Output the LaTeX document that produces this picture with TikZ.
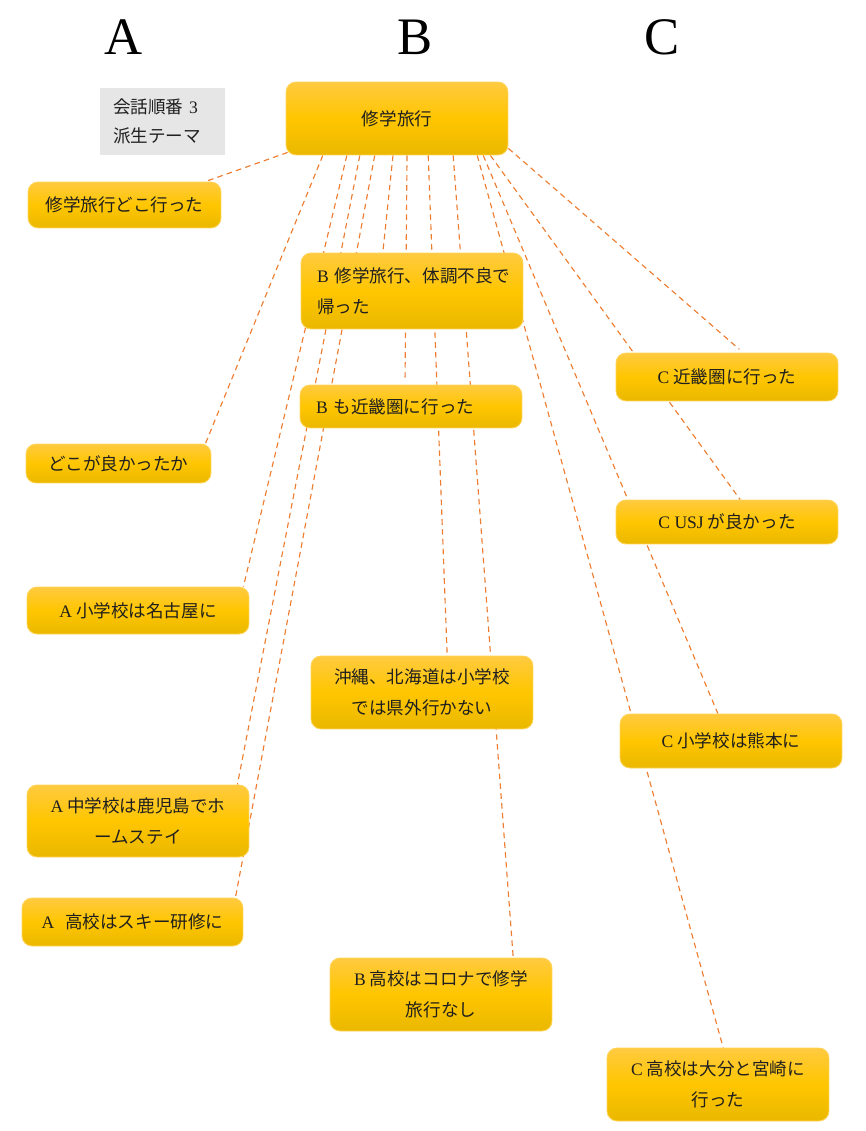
\documentclass[tikz,border=0pt]{standalone}
\usepackage{fontspec}
\setmainfont{Liberation Serif}
\newfontfamily\jpfont{Noto Sans CJK JP}
\usetikzlibrary{calc,backgrounds}
\definecolor{boxtop}{RGB}{255,202,64}
\definecolor{boxmid}{RGB}{255,198,0}
\definecolor{boxbot}{RGB}{234,184,0}
\definecolor{boxline}{RGB}{255,212,90}
\definecolor{linkcol}{RGB}{237,125,49}
\definecolor{notegray}{RGB}{230,230,230}
\newcommand{\latn}[1]{{\rmfamily #1}}

\begin{document}
\begin{tikzpicture}[x=0.02cm,y=-0.02cm,
  card/.style={rectangle, rounded corners=0.2cm, draw=boxline, line width=0.5pt,
    top color=boxtop, bottom color=boxbot, middle color=boxmid,
    inner sep=0pt, minimum width=4.44cm,
    font=\jpfont\fontsize{10pt}{17.5pt}\selectfont, text=black!88, align=center},
  leftcard/.style={card, text width=3.8cm, align=left},
  note/.style={rectangle, fill=notegray, inner sep=0pt, minimum width=2.5cm,
    minimum height=1.34cm, text width=1.98cm, align=left,
    font=\jpfont\fontsize{10pt}{16.5pt}\selectfont, text=black!88},
  link/.style={draw=linkcol, line width=0.65pt, dash pattern=on 3.2pt off 2.4pt},
  head/.style={font=\fontsize{30pt}{32pt}\selectfont, anchor=base, inner sep=0pt}]

\useasboundingbox (0,0) rectangle (865,1131);

% column headings
\node[head] (hA) at (124,55) {A};
\node[head] (hB) at (415,55) {B};
\node[head] (hC) at (662,55) {C};

% theme box and its note
\node[card, minimum height=1.46cm] (main) at (397,118.5) {修学旅行};
\node[note] (note) at (162.5,121.5) {会話順番 \latn{3}\\派生テーマ};

% column A
\node[card, minimum width=3.86cm, minimum height=0.92cm] (q1) at (124.5,205) {修学旅行どこ行った};
\node[card, minimum width=3.7cm, minimum height=0.78cm] (q2) at (118.5,463.5) {どこが良かったか};
\node[card, minimum height=0.94cm] (a1) at (138,610.5) {\latn{A} 小学校は名古屋に};
\node[card, minimum height=1.44cm] (a2) at (138,821) {\latn{A} 中学校は鹿児島でホ\\ームステイ};
\node[card, minimum width=4.42cm, minimum height=0.96cm] (a3) at (132.5,922) {\latn{A}\hspace{0.4em} 高校はスキー研修に};

% column B
\node[leftcard, minimum height=1.52cm] (b1) at (412,291) {\latn{B}~修学旅行、体調不良で\\帰った};
\node[leftcard, minimum height=0.86cm] (b2) at (411,406.5) {\latn{B}~も近畿圏に行った};
\node[card, minimum height=1.46cm] (b3) at (422,692.5) {沖縄、北海道は小学校\\では県外行かない};
\node[card, minimum height=1.46cm] (b4) at (441,994.5) {\latn{B} 高校はコロナで修学\\旅行なし};

% column C
\node[card, minimum height=0.96cm] (c1) at (727,377) {\latn{C} 近畿圏に行った};
\node[card, minimum height=0.88cm] (c2) at (727,522) {\latn{C USJ} が良かった};
\node[card, minimum height=1.08cm] (c3) at (731,741) {\latn{C} 小学校は熊本に};
\node[card, minimum height=1.46cm] (c4) at (718,1084.5) {\latn{C} 高校は大分と宮崎に\\行った};

% dashed links from the theme box, drawn beneath the boxes
\begin{pgfonlayer}{background}
\draw[link] ($(main.south west)+(2,-3)$) -- ($(q1.north west)!0.917!(q1.north east)$);
\draw[link] ($(main.south west)!0.167!(main.south east)$) -- ($(q2.north west)!0.968!(q2.north east)$);
\draw[link] ($(main.south west)!0.275!(main.south east)$) -- ($(a1.north west)!0.973!(a1.north east)$);
\draw[link] ($(main.south west)!0.333!(main.south east)$) -- ($(a2.north west)!0.946!(a2.north east)$);
\draw[link] ($(main.south west)!0.400!(main.south east)$) -- ($(a3.north west)!0.964!(a3.north east)$);
\draw[link] ($(main.south west)!0.482!(main.south east)$) -- ($(b1.north west)!0.369!(b1.north east)$);
\draw[link, shorten >=0.06cm] ($(main.south west)!0.545!(main.south east)$) -- ($(b2.north west)!0.473!(b2.north east)$);
\draw[link] ($(main.south west)!0.640!(main.south east)$) -- ($(b3.north west)!0.613!(b3.north east)$);
\draw[link] ($(main.south west)!0.752!(main.south east)$) -- ($(b4.north west)!0.824!(b4.north east)$);
\draw[link] ($(main.south west)!0.860!(main.south east)$) -- ($(c4.north west)!0.523!(c4.north east)$);
\draw[link] ($(main.south west)!0.887!(main.south east)$) -- ($(c3.north west)!0.441!(c3.north east)$);
\draw[link] ($(main.south west)!0.919!(main.south east)$) -- ($(c2.north west)!0.559!(c2.north east)$);
\draw[link, shorten >=0.1cm] ($(main.south east)+(0,-7)$) -- ($(c1.north west)!0.572!(c1.north east)$);
\end{pgfonlayer}
\end{tikzpicture}
\end{document}
